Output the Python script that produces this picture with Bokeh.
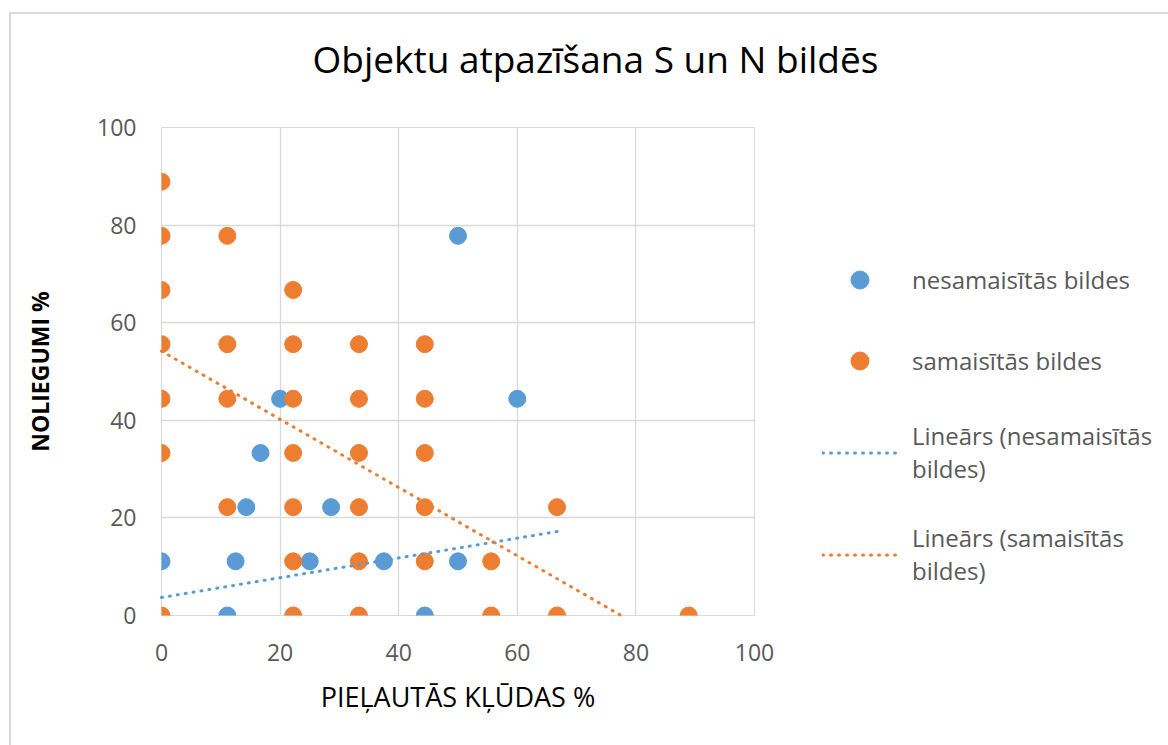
from bokeh.plotting import figure
from bokeh.models import Range1d, SingleIntervalTicker, Legend, LegendItem, Title
from bokeh.embed import file_html
from bokeh.resources import INLINE

# ---- data (percent) ----
blue_x = [0, 11.1, 12.5, 14.3, 16.7, 20.0, 25.0, 28.6, 37.5, 44.4, 50.0, 50.0, 60.0]
blue_y = [11.1, 0, 11.1, 22.2, 33.3, 44.4, 11.1, 22.2, 11.1, 0, 11.1, 77.8, 44.4]

orange_x = [0, 0, 0, 0, 0, 0, 0,
            11.1, 11.1, 11.1, 11.1,
            22.2, 22.2, 22.2, 22.2, 22.2, 22.2, 22.2,
            33.3, 33.3, 33.3, 33.3, 33.3, 33.3,
            44.4, 44.4, 44.4, 44.4, 44.4,
            55.6, 55.6,
            66.7, 66.7,
            88.9]
orange_y = [88.9, 77.8, 66.7, 55.6, 44.4, 33.3, 0,
            77.8, 55.6, 44.4, 22.2,
            66.7, 55.6, 44.4, 33.3, 22.2, 11.1, 0,
            55.6, 44.4, 33.3, 22.2, 11.1, 0,
            55.6, 44.4, 33.3, 22.2, 11.1,
            11.1, 0,
            22.2, 0,
            0]

trend_blue_x = [0, 66.7]
trend_blue_y = [3.7, 17.2]
trend_orange_x = [0, 77.5]
trend_orange_y = [54.2, 0]

title_text = "Objektu atpazīšana S un N bildēs"
x_label = "PIEĻAUTĀS KĻŪDAS %"
y_label = "NOLIEGUMI %"
series_names = ["nesamaisītās bildes", "samaisītās bildes",
                "Lineārs (nesamaisītās\nbildes)", "Lineārs (samaisītās\nbildes)"]

BLUE = "#5b9bd5"
ORANGE = "#ed7d31"
GRID = "#d9d9d9"
FONT = "Open Sans"

p = figure(frame_width=593, frame_height=488, output_backend="svg", toolbar_location=None,
           x_range=Range1d(0, 100), y_range=Range1d(0, 100),
           min_border_left=150, min_border_right=0, min_border_top=113, min_border_bottom=130)
p.styles = {"margin-left": "9px", "margin-top": "12px",
            "border-left": "2px solid #d9d9d9", "border-top": "2px solid #d9d9d9"}

p.title.text = ""
# spacer between the frame and the title
p.add_layout(Title(text=" ", text_font_size="10px", standoff=31), "above")
p.add_layout(Title(text=title_text, text_font=FONT, text_font_size="37px",
                   text_font_style="normal", text_color="#000000",
                   align="left", offset=151, standoff=0), "above")

p.outline_line_color = GRID
p.xgrid.grid_line_color = GRID
p.ygrid.grid_line_color = GRID
p.xgrid.grid_line_width = 1.3
p.ygrid.grid_line_width = 1.3

for ax in (p.xaxis, p.yaxis):
    ax.ticker = SingleIntervalTicker(interval=20)
    ax.axis_line_color = None
    ax.major_tick_line_color = None
    ax.minor_tick_line_color = None
    ax.major_label_text_font = FONT
    ax.major_label_text_font_size = "23px"
    ax.major_label_text_color = "#595959"
    ax.axis_label_text_font = FONT
    ax.axis_label_text_color = "#000000"

p.xaxis.axis_label = x_label
p.xaxis.axis_label_text_font_size = "27px"
p.xaxis.axis_label_text_font_style = "normal"
p.xaxis.major_label_standoff = 22
p.xaxis.axis_label_standoff = 14
p.yaxis.axis_label = y_label
p.yaxis.axis_label_text_font_size = "23px"
p.yaxis.axis_label_text_font_style = "bold"
p.yaxis.major_label_standoff = 19
p.yaxis.axis_label_standoff = 38

r_bt = p.line(trend_blue_x, trend_blue_y, line_color=BLUE, line_width=3,
              line_dash="1 7", line_cap="round")
r_ot = p.line(trend_orange_x, trend_orange_y, line_color=ORANGE, line_width=3,
              line_dash="1 7", line_cap="round")
r_b = p.scatter(blue_x, blue_y, size=17, fill_color=BLUE, line_color=BLUE)
r_o = p.scatter(orange_x, orange_y, size=17, fill_color=ORANGE, line_color=ORANGE)
r_bt.level = "overlay"
r_ot.level = "overlay"

legend = Legend(items=[LegendItem(label=series_names[0], renderers=[r_b]),
                       LegendItem(label=series_names[1], renderers=[r_o]),
                       LegendItem(label=series_names[2], renderers=[r_bt]),
                       LegendItem(label=series_names[3], renderers=[r_ot])],
                location=(68, 28), padding=0, margin=0, spacing=36,
                glyph_width=75, glyph_height=45, label_standoff=15,
                label_text_font=FONT, label_text_font_size="24px",
                label_text_color="#595959", label_text_line_height=1.6,
                border_line_color=None, background_fill_alpha=0)
p.add_layout(legend, "right")

open("out.html", "w").write(file_html(p, INLINE))
